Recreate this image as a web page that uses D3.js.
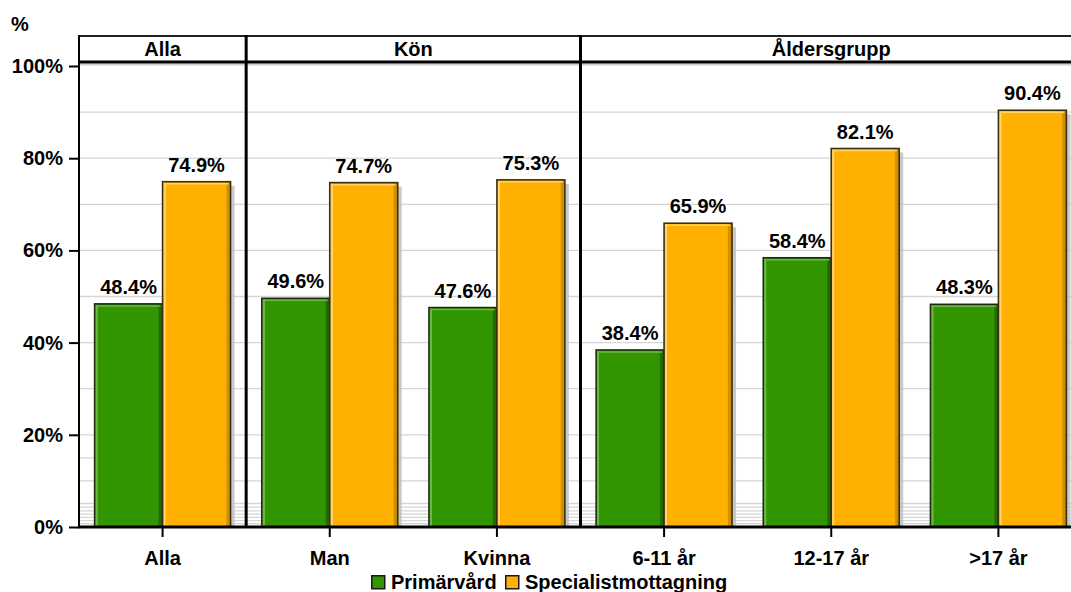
<!DOCTYPE html>
<html>
<head>
<meta charset="utf-8">
<script src="https://cdn.jsdelivr.net/npm/d3@7"></script>
<style>
  html, body { margin: 0; padding: 0; background: #fff; overflow: hidden; }
  svg text { font-family: "Liberation Sans", Arial, sans-serif; font-weight: bold; fill: #000; }
</style>
</head>
<body>
<svg id="chart" width="1071" height="592"></svg>
<script>
// ---- data ----
const categories = ["Alla", "Man", "Kvinna", "6-11 år", "12-17 år", ">17 år"];
const panels = [
  { name: "Alla", cats: ["Alla"] },
  { name: "Kön", cats: ["Man", "Kvinna"] },
  { name: "Åldersgrupp", cats: ["6-11 år", "12-17 år", ">17 år"] }
];
const seriesNames = ["Primärvård", "Specialistmottagning"];
const primarvard = [48.4, 49.6, 47.6, 38.4, 58.4, 48.3];
const specialist = [74.9, 74.7, 75.3, 65.9, 82.1, 90.4];
const yTicks = [0, 20, 40, 60, 80, 100];
const gridValues = [10, 15, 20, 30, 40, 50, 60, 70, 80, 90];
const minorGrid = [0.7, 1.4, 2.1, 2.8, 3.5, 4.3, 5.1];

// ---- layout ----
const FS = 20;
const svg = d3.select("#chart");
const plotLeft = 79, plotRight = 1082, plotTop = 36, headerBottom = 62, plotBottom = 527;
const colors = { "Primärvård": "#319600", "Specialistmottagning": "#ffb000" };
const light = { "Primärvård": "#6cb845", "Specialistmottagning": "#ffd36a" };
const dark = { "Primärvård": "#236b00", "Specialistmottagning": "#cf8f00" };
const stroke = { "Primärvård": "#1c2a12", "Specialistmottagning": "#3b2f10" };

const y = d3.scaleLinear().domain([0, 100]).range([plotBottom, 66]);
const x = d3.scaleBand().domain(categories).range([plotLeft, plotRight]).padding(0);
const xs = d3.scaleBand().domain(seriesNames).range([0, x.bandwidth()]).paddingOuter(0.23).paddingInner(0);

const data = categories.map((c, i) => ({ cat: c, vals: [
  { s: seriesNames[0], v: primarvard[i] },
  { s: seriesNames[1], v: specialist[i] }
]}));

// gradients
const defs = svg.append("defs");
seriesNames.forEach((s, i) => {
  const g = defs.append("linearGradient").attr("id", "grad" + i).attr("x1", 0).attr("x2", 1).attr("y1", 0).attr("y2", 0);
  g.append("stop").attr("offset", "0%").attr("stop-color", light[s]);
  g.append("stop").attr("offset", "4%").attr("stop-color", light[s]);
  g.append("stop").attr("offset", "5%").attr("stop-color", colors[s]);
  g.append("stop").attr("offset", "93%").attr("stop-color", colors[s]);
  g.append("stop").attr("offset", "95%").attr("stop-color", dark[s]);
  g.append("stop").attr("offset", "100%").attr("stop-color", dark[s]);
});
defs.append("clipPath").attr("id", "plotclip").append("rect")
  .attr("x", plotLeft).attr("y", headerBottom).attr("width", plotRight - plotLeft).attr("height", plotBottom - headerBottom);

// grid lines
const grid = svg.append("g");
grid.selectAll("line.g").data(gridValues.concat(minorGrid)).join("line")
  .attr("x1", plotLeft).attr("x2", plotRight)
  .attr("y1", d => y(d)).attr("y2", d => y(d))
  .attr("stroke", "#d6d6d6").attr("stroke-width", 1.3);

// bars
const catG = svg.append("g").attr("clip-path", "url(#plotclip)")
  .selectAll("g.cat").data(data).join("g")
  .attr("transform", d => `translate(${x(d.cat)},0)`);

// shadows
catG.selectAll("rect.shadow").data(d => d.vals).join("rect")
  .attr("x", d => xs(d.s) + 4).attr("y", d => y(d.v) + 4)
  .attr("width", xs.bandwidth()).attr("height", d => plotBottom - y(d.v))
  .attr("fill", "#bdbdbd").attr("opacity", 0.8);

catG.selectAll("rect.bar").data(d => d.vals).join("rect")
  .attr("x", d => xs(d.s)).attr("y", d => y(d.v))
  .attr("width", xs.bandwidth()).attr("height", d => plotBottom - y(d.v))
  .attr("fill", (d) => "url(#grad" + seriesNames.indexOf(d.s) + ")")
  .attr("stroke", d => stroke[d.s]).attr("stroke-width", 1.6);

// inner top highlight
catG.selectAll("line.hl").data(d => d.vals).join("line")
  .attr("x1", d => xs(d.s) + 2).attr("x2", d => xs(d.s) + xs.bandwidth() - 2)
  .attr("y1", d => y(d.v) + 2).attr("y2", d => y(d.v) + 2)
  .attr("stroke", d => light[d.s]).attr("stroke-width", 1.5);

// value labels
catG.selectAll("text.val").data(d => d.vals).join("text")
  .attr("x", d => xs(d.s) + xs.bandwidth() / 2)
  .attr("y", d => y(d.v) - 10)
  .attr("text-anchor", "middle").attr("font-size", FS)
  .text(d => d.v.toFixed(1) + "%");

// header band
svg.append("rect").attr("x", plotLeft).attr("y", plotTop).attr("width", plotRight - plotLeft).attr("height", headerBottom - plotTop)
  .attr("fill", "#fff");
svg.append("line").attr("x1", plotLeft).attr("x2", plotRight).attr("y1", plotTop).attr("y2", plotTop)
  .attr("stroke", "#222").attr("stroke-width", 2);
svg.append("line").attr("x1", plotLeft).attr("x2", plotRight).attr("y1", headerBottom + 2.5).attr("y2", headerBottom + 2.5)
  .attr("stroke", "#cfcfcf").attr("stroke-width", 2);
svg.append("line").attr("x1", plotLeft).attr("x2", plotRight).attr("y1", headerBottom).attr("y2", headerBottom)
  .attr("stroke", "#000").attr("stroke-width", 3);

// panel dividers and header labels
panels.forEach((p, i) => {
  const x0 = x(p.cats[0]);
  const x1 = x(p.cats[p.cats.length - 1]) + x.bandwidth();
  svg.append("text").attr("x", (x0 + x1) / 2).attr("y", 56)
    .attr("text-anchor", "middle").attr("font-size", FS).text(p.name);
  if (i > 0) {
    svg.append("line").attr("x1", x0).attr("x2", x0).attr("y1", plotTop - 1).attr("y2", plotBottom)
      .attr("stroke", "#000").attr("stroke-width", 3);
  }
});

// left axis
const yAxis = d3.axisLeft(y).tickValues(yTicks).tickFormat(d => d + "%").tickSize(10).tickPadding(6);
const ya = svg.append("g").attr("transform", `translate(${plotLeft},0)`).call(yAxis);
ya.select(".domain").remove();
ya.selectAll(".tick line").attr("stroke", "#000").attr("stroke-width", 2);
ya.selectAll(".tick text").attr("font-size", FS).attr("font-family", "Liberation Sans, Arial, sans-serif")
  .attr("font-weight", "bold").attr("fill", "#000");
svg.append("line").attr("x1", plotLeft).attr("x2", plotLeft).attr("y1", plotTop - 1).attr("y2", plotBottom + 1)
  .attr("stroke", "#000").attr("stroke-width", 2);

// bottom axis
const xAxis = d3.axisBottom(x).tickSize(10).tickPadding(14);
const xa = svg.append("g").attr("transform", `translate(0,${plotBottom})`).call(xAxis);
xa.select(".domain").remove();
xa.selectAll(".tick line").attr("stroke", "#000").attr("stroke-width", 2);
xa.selectAll(".tick text").attr("font-size", FS).attr("font-family", "Liberation Sans, Arial, sans-serif")
  .attr("font-weight", "bold").attr("fill", "#000");
svg.append("line").attr("x1", plotLeft - 1).attr("x2", plotRight).attr("y1", plotBottom).attr("y2", plotBottom)
  .attr("stroke", "#000").attr("stroke-width", 3);

// y unit label
svg.append("text").attr("x", 11).attr("y", 31).attr("font-size", FS).text("%");

// legend
const legendX = [371, 505];
const lg = svg.append("g").selectAll("g").data(seriesNames).join("g")
  .attr("transform", (d, i) => `translate(${legendX[i]},575)`);
lg.append("rect").attr("x", 0.75).attr("y", 0.75).attr("width", 13).attr("height", 13)
  .attr("fill", d => colors[d]).attr("stroke", "#1a1a1a").attr("stroke-width", 1.5);
lg.append("text").attr("x", 20).attr("y", 14).attr("font-size", FS).text(d => d);
</script>
</body>
</html>
